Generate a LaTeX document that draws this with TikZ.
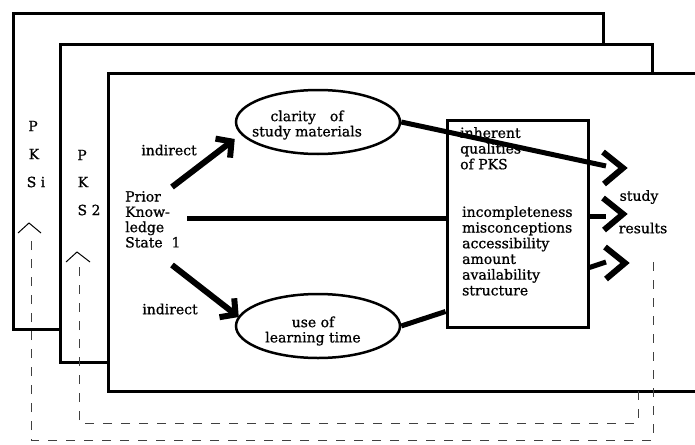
\documentclass[tikz,border=0pt]{standalone}
\usepackage{fontspec}
\setmainfont{DejaVu Serif}[FakeBold=0.8]
\usetikzlibrary{arrows.meta,shapes.geometric}
\begin{document}
\begin{tikzpicture}[x=1pt,y=-1pt,
  frame/.style={draw=black,line width=3pt,fill=white},
  lbl/.style={font=\fontsize{14}{15.3}\selectfont,inner sep=0pt},
  boxlbl/.style={font=\fontsize{14}{15.7}\selectfont,inner sep=0pt,align=left,anchor=north west},
  oval/.style={ellipse,draw,line width=2.5pt,minimum width=164pt,minimum height=64pt,inner sep=0pt},
  bigarrow/.style={line width=6pt,-{Straight Barb[length=11pt,width=24pt]}},
  thickline/.style={line width=5pt},
  dashline/.style={line width=1pt,dash pattern=on 9pt off 9pt,black!75},
  caret/.style={line width=1pt},
  chev/.pic={\draw[line width=6pt,line join=miter] (-20,-16) -- (0,0) -- (-19,16);}
]
\useasboundingbox (0,0) rectangle (695,444);
\clip (0,0) rectangle (695,444);

% stacked frames
\draw[frame] (13,14) rectangle (603,329);
\draw[frame] (60,45) rectangle (652,362);
\draw[frame] (108,73) rectangle (720,391);

% dashed feedback lines
\coordinate (da) at (653,262);
\coordinate (db) at (653,440);
\coordinate (dc) at (31,440);
\coordinate (dd) at (31,240);
\draw[dashline] (da) -- (db) -- (dc) -- (dd);
\coordinate (de) at (638,391);
\coordinate (df) at (638,423);
\coordinate (dg) at (79,423);
\coordinate (dh) at (79,266);
\draw[dashline] (de) -- (df) -- (dg) -- (dh);
\draw[caret] (18,233) -- (29,223) -- (41,233);
\draw[caret] (66,262) -- (77,252) -- (90,262);

% PKS labels
\node[lbl] (p1) at (33,126) {P};
\node[lbl] (k1) at (34,154) {K};
\node[lbl] (s1) at (36,182) {S i};
\node[lbl] (p2) at (82,155) {P};
\node[lbl] (k2) at (83,182) {K};
\node[lbl] (s2) at (89,210) {S 2};

% prior knowledge
\node[lbl,align=left,anchor=north west] (prior) at (125,191) {Prior\\Know-\\ledge\\State~~1};
\node[lbl] (ind1) at (169,150) {indirect};
\node[lbl] (ind2) at (170,309) {indirect};

% ellipses
\node[oval] (clar) at (318,122) {};
\node[lbl,align=center] (clart) at (307,125) {clarity\quad of\\study materials};
\node[oval] (use) at (318,326) {};
\node[lbl,align=center] (uset) at (313,331) {use of\\learning time};

% box
\node[draw,line width=3pt,minimum width=141pt,minimum height=207pt,inner sep=0pt] (box) at (517.5,223.5) {};
\node[boxlbl] (inh) at (460,127) {inherent\\qualities\\of PKS};
\node[boxlbl] (attr) at (462,206) {incompleteness\\misconceptions\\accessibility\\amount\\availability\\structure};

% results
\node[lbl] (study) at (639,197) {study};
\node[lbl] (results) at (643,228) {results};

% connectors
\coordinate (pa) at (172,187);
\coordinate (pm) at (187,218);
\coordinate (pb) at (172,265);
\draw[bigarrow] (pa) -- ([yshift=-17pt]clar.west);
\draw[bigarrow] (pb) -- ([xshift=4pt,yshift=9pt]use.west);
\draw[thickline] (pm) -- (pm -| box.west);
\draw[thickline] (use.east) -- ([yshift=-88pt]box.west);

\coordinate (t1) at (623,168);
\coordinate (t2) at (623,214);
\coordinate (t3) at (625,263);
\coordinate (e1) at (606,166);
\coordinate (e2) at (606,216);
\coordinate (e3) at (606,262);
\draw[thickline] (clar.east) -- (e1);
\draw[thickline] (box.east |- e2) -- (e2);
\draw[thickline] ([yshift=-44pt]box.east) -- (e3);
\pic at (t1) {chev};
\pic at (t2) {chev};
\pic at (t3) {chev};
\end{tikzpicture}
\end{document}
